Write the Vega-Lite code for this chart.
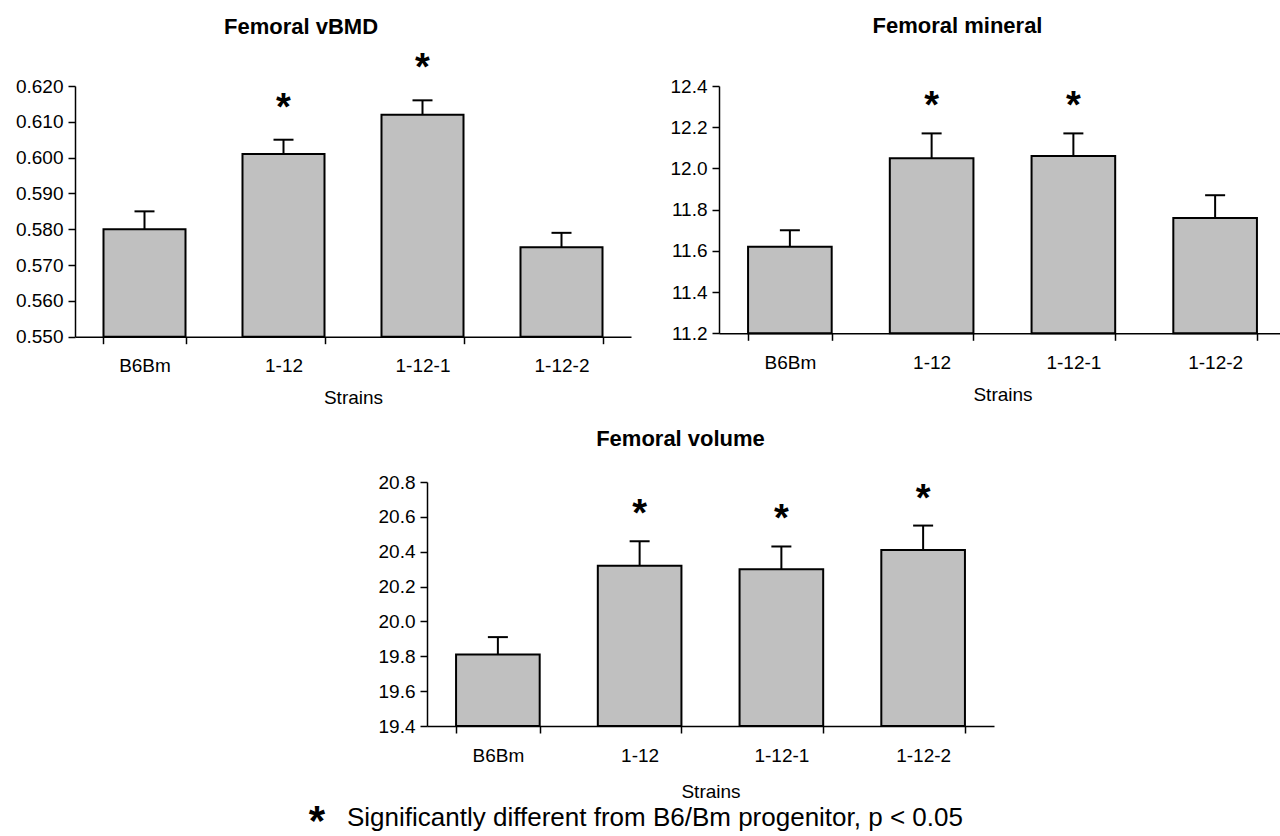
{
  "$schema": "https://vega.github.io/schema/vega-lite/v6.json",
  "padding": {"left": 15, "top": 15, "right": 0, "bottom": 0},
  "background": "white",
  "datasets": {
    "bars": [
      {"panel": "vBMD", "strain": "B6Bm", "mean": 0.580, "hi": 0.585, "sig": ""},
      {"panel": "vBMD", "strain": "1-12", "mean": 0.601, "hi": 0.605, "sig": "*"},
      {"panel": "vBMD", "strain": "1-12-1", "mean": 0.612, "hi": 0.616, "sig": "*"},
      {"panel": "vBMD", "strain": "1-12-2", "mean": 0.575, "hi": 0.579, "sig": ""},
      {"panel": "mineral", "strain": "B6Bm", "mean": 11.62, "hi": 11.70, "sig": ""},
      {"panel": "mineral", "strain": "1-12", "mean": 12.05, "hi": 12.17, "sig": "*"},
      {"panel": "mineral", "strain": "1-12-1", "mean": 12.06, "hi": 12.17, "sig": "*"},
      {"panel": "mineral", "strain": "1-12-2", "mean": 11.76, "hi": 11.87, "sig": ""},
      {"panel": "volume", "strain": "B6Bm", "mean": 19.81, "hi": 19.91, "sig": ""},
      {"panel": "volume", "strain": "1-12", "mean": 20.32, "hi": 20.46, "sig": "*"},
      {"panel": "volume", "strain": "1-12-1", "mean": 20.30, "hi": 20.43, "sig": "*"},
      {"panel": "volume", "strain": "1-12-2", "mean": 20.41, "hi": 20.55, "sig": "*"}
    ],
    "note": [{"text": "Significantly different from B6/Bm progenitor, p < 0.05"}],
    "empty": []
  },
  "vconcat": [
    {
      "hconcat": [
        {
          "width": 556, "height": 250.7,
          "title": {"text": "Femoral vBMD", "offset": 11, "dx": -52},
          "data": {"name": "bars"},
          "transform": [{"filter": "datum.panel === 'vBMD'"}],
          "encoding": {
            "x": {"field": "strain", "type": "nominal", "sort": ["B6Bm", "1-12", "1-12-1", "1-12-2"], "title": "Strains",
                  "scale": {"paddingInner": 0.41, "paddingOuter": 0.205},
                  "axis": {"labelAngle": 0, "tickBand": "extent", "labelPadding": 13, "titlePadding": 13}}
          },
          "layer": [
            {"mark": {"type": "bar", "fill": "#c0c0c0", "stroke": "#000", "strokeWidth": 2},
             "encoding": {"y": {"field": "mean", "type": "quantitative", "title": null,
                                "scale": {"domain": [0.55, 0.62], "zero": false, "nice": false},
                                "axis": {"values": [0.55, 0.56, 0.57, 0.58, 0.59, 0.6, 0.61, 0.62], "format": ".3f", "labelPadding": 5, "labelOverlap": false}},
                          "y2": {"datum": 0.55}}},
            {"mark": {"type": "rule", "strokeWidth": 2, "color": "#000"},
             "encoding": {"y": {"field": "mean", "type": "quantitative", "title": null,
                                "scale": {"domain": [0.55, 0.62], "zero": false, "nice": false},
                                "axis": {"values": [0.55, 0.56, 0.57, 0.58, 0.59, 0.6, 0.61, 0.62], "format": ".3f", "labelPadding": 5, "labelOverlap": false}},
                          "y2": {"field": "hi"}}},
            {"mark": {"type": "tick", "size": 20, "thickness": 2, "color": "#000", "opacity": 1},
             "encoding": {"y": {"field": "hi", "type": "quantitative", "title": null,
                                "scale": {"domain": [0.55, 0.62], "zero": false, "nice": false},
                                "axis": {"values": [0.55, 0.56, 0.57, 0.58, 0.59, 0.6, 0.61, 0.62], "format": ".3f", "labelPadding": 5, "labelOverlap": false}}}},
            {"mark": {"type": "text", "fontSize": 38, "fontWeight": "bold", "baseline": "alphabetic", "dy": -20, "color": "#000"},
             "encoding": {"y": {"field": "hi", "type": "quantitative", "title": null,
                                "scale": {"domain": [0.55, 0.62], "zero": false, "nice": false},
                                "axis": {"values": [0.55, 0.56, 0.57, 0.58, 0.59, 0.6, 0.61, 0.62], "format": ".3f", "labelPadding": 5, "labelOverlap": false}},
                          "text": {"field": "sig"}}}
          ]
        },
        {
          "width": 567, "height": 247.3,
          "title": {"text": "Femoral mineral", "offset": 39, "dx": -45},
          "data": {"name": "bars"},
          "transform": [{"filter": "datum.panel === 'mineral'"}],
          "encoding": {
            "x": {"field": "strain", "type": "nominal", "sort": ["B6Bm", "1-12", "1-12-1", "1-12-2"], "title": "Strains",
                  "scale": {"paddingInner": 0.41, "paddingOuter": 0.205},
                  "axis": {"labelAngle": 0, "tickBand": "extent", "labelPadding": 13, "titlePadding": 13}}
          },
          "layer": [
            {"mark": {"type": "bar", "fill": "#c0c0c0", "stroke": "#000", "strokeWidth": 2},
             "encoding": {"y": {"field": "mean", "type": "quantitative", "title": null,
                                "scale": {"domain": [11.2, 12.4], "zero": false, "nice": false},
                                "axis": {"values": [11.2, 11.4, 11.6, 11.8, 12.0, 12.2, 12.4], "format": ".1f", "labelPadding": 5, "labelOverlap": false}},
                          "y2": {"datum": 11.2}}},
            {"mark": {"type": "rule", "strokeWidth": 2, "color": "#000"},
             "encoding": {"y": {"field": "mean", "type": "quantitative", "title": null,
                                "scale": {"domain": [11.2, 12.4], "zero": false, "nice": false},
                                "axis": {"values": [11.2, 11.4, 11.6, 11.8, 12.0, 12.2, 12.4], "format": ".1f", "labelPadding": 5, "labelOverlap": false}},
                          "y2": {"field": "hi"}}},
            {"mark": {"type": "tick", "size": 20, "thickness": 2, "color": "#000", "opacity": 1},
             "encoding": {"y": {"field": "hi", "type": "quantitative", "title": null,
                                "scale": {"domain": [11.2, 12.4], "zero": false, "nice": false},
                                "axis": {"values": [11.2, 11.4, 11.6, 11.8, 12.0, 12.2, 12.4], "format": ".1f", "labelPadding": 5, "labelOverlap": false}}}},
            {"mark": {"type": "text", "fontSize": 38, "fontWeight": "bold", "baseline": "alphabetic", "dy": -15, "color": "#000"},
             "encoding": {"y": {"field": "hi", "type": "quantitative", "title": null,
                                "scale": {"domain": [11.2, 12.4], "zero": false, "nice": false},
                                "axis": {"values": [11.2, 11.4, 11.6, 11.8, 12.0, 12.2, 12.4], "format": ".1f", "labelPadding": 5, "labelOverlap": false}},
                          "text": {"field": "sig"}}}
          ]
        }
      ],
      "spacing": 39
    },
    {
      "vconcat": [
        {
          "hconcat": [
            {"width": 283, "height": 10, "data": {"name": "empty"}, "mark": {"type": "point", "opacity": 0}, "encoding": {}},
            {
              "width": 567, "height": 244,
              "title": {"text": "Femoral volume", "offset": 22, "dx": -30},
              "data": {"name": "bars"},
              "transform": [{"filter": "datum.panel === 'volume'"}],
              "encoding": {
                "x": {"field": "strain", "type": "nominal", "sort": ["B6Bm", "1-12", "1-12-1", "1-12-2"], "title": "Strains",
                      "scale": {"paddingInner": 0.41, "paddingOuter": 0.205},
                      "axis": {"labelAngle": 0, "tickBand": "extent", "labelPadding": 13, "titlePadding": 17}}
              },
              "layer": [
                {"mark": {"type": "bar", "fill": "#c0c0c0", "stroke": "#000", "strokeWidth": 2},
                 "encoding": {"y": {"field": "mean", "type": "quantitative", "title": null,
                                    "scale": {"domain": [19.4, 20.8], "zero": false, "nice": false},
                                    "axis": {"values": [19.4, 19.6, 19.8, 20.0, 20.2, 20.4, 20.6, 20.8], "format": ".1f", "labelPadding": 5, "labelOverlap": false}},
                              "y2": {"datum": 19.4}}},
                {"mark": {"type": "rule", "strokeWidth": 2, "color": "#000"},
                 "encoding": {"y": {"field": "mean", "type": "quantitative", "title": null,
                                    "scale": {"domain": [19.4, 20.8], "zero": false, "nice": false},
                                    "axis": {"values": [19.4, 19.6, 19.8, 20.0, 20.2, 20.4, 20.6, 20.8], "format": ".1f", "labelPadding": 5, "labelOverlap": false}},
                              "y2": {"field": "hi"}}},
                {"mark": {"type": "tick", "size": 20, "thickness": 2, "color": "#000", "opacity": 1},
                 "encoding": {"y": {"field": "hi", "type": "quantitative", "title": null,
                                    "scale": {"domain": [19.4, 20.8], "zero": false, "nice": false},
                                    "axis": {"values": [19.4, 19.6, 19.8, 20.0, 20.2, 20.4, 20.6, 20.8], "format": ".1f", "labelPadding": 5, "labelOverlap": false}}}},
                {"mark": {"type": "text", "fontSize": 38, "fontWeight": "bold", "baseline": "alphabetic", "dy": -15, "color": "#000"},
                 "encoding": {"y": {"field": "hi", "type": "quantitative", "title": null,
                                    "scale": {"domain": [19.4, 20.8], "zero": false, "nice": false},
                                    "axis": {"values": [19.4, 19.6, 19.8, 20.0, 20.2, 20.4, 20.6, 20.8], "format": ".1f", "labelPadding": 5, "labelOverlap": false}},
                              "text": {"field": "sig"}}}
              ]
            }
          ],
          "spacing": 20
        },
        {
          "width": 1250, "height": 34,
          "data": {"name": "note"},
          "layer": [
            {"mark": {"type": "text", "text": "*", "fontSize": 42, "fontWeight": "bold", "align": "center", "baseline": "alphabetic", "dx": -383, "dy": 17, "color": "#000"},
             "encoding": {}},
            {"mark": {"type": "text", "fontSize": 26, "align": "left", "baseline": "middle", "dx": -353, "dy": 0, "color": "#000"},
             "encoding": {"text": {"field": "text"}}}
          ]
        }
      ],
      "spacing": 0
    }
  ],
  "spacing": 20,
  "config": {
    "view": {"stroke": null},
    "font": "Liberation Sans",
    "axis": {"domainColor": "#000", "tickColor": "#000", "labelColor": "#000", "titleColor": "#000", "grid": false,
             "labelFontSize": 19, "titleFontSize": 19, "titleFontWeight": "normal", "domainWidth": 1.5, "tickWidth": 1.5, "tickSize": 7},
    "title": {"fontSize": 22, "fontWeight": "bold", "color": "#000", "frame": "group", "anchor": "middle"}
  }
}
